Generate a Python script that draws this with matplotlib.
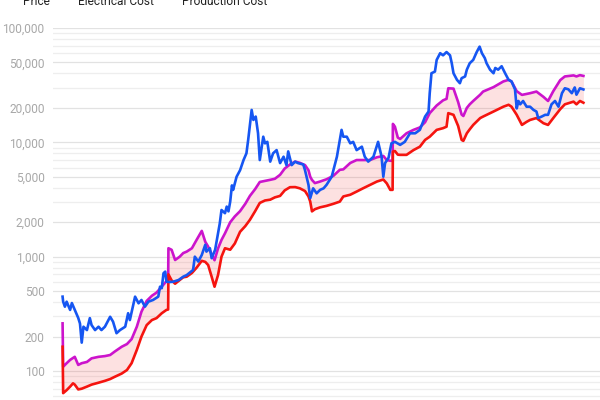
import matplotlib
matplotlib.use("Agg")
import matplotlib.pyplot as plt
import numpy as np

# ---------------- data (decimal years, USD) ----------------
price_t = [2014.71, 2014.72, 2014.75, 2014.78, 2014.84, 2014.87, 2014.92, 2014.98, 2015.01, 2015.04,
           2015.07, 2015.13, 2015.18, 2015.21, 2015.27, 2015.33, 2015.38, 2015.44, 2015.53, 2015.58,
           2015.64, 2015.70, 2015.79, 2015.84, 2015.87, 2015.96, 2016.02, 2016.07, 2016.13, 2016.19,
           2016.27, 2016.36, 2016.39, 2016.42, 2016.45, 2016.48, 2016.50, 2016.56, 2016.62, 2016.71,
           2016.79, 2016.85, 2016.96, 2016.99, 2017.05, 2017.11, 2017.17, 2017.19, 2017.25, 2017.28,
           2017.34, 2017.37, 2017.42, 2017.45, 2017.51, 2017.54, 2017.57, 2017.60, 2017.63, 2017.65,
           2017.71, 2017.77, 2017.83, 2017.88, 2017.91, 2017.97, 2018.00, 2018.04, 2018.08, 2018.11,
           2018.17, 2018.20, 2018.24, 2018.29, 2018.34, 2018.40, 2018.46, 2018.52, 2018.57, 2018.60,
           2018.66, 2018.72, 2018.77, 2018.86, 2018.89, 2018.95, 2018.98, 2019.03, 2019.09, 2019.15,
           2019.21, 2019.26, 2019.35, 2019.44, 2019.52, 2019.55, 2019.61, 2019.67, 2019.72, 2019.78,
           2019.87, 2019.92, 2019.98, 2020.07, 2020.15, 2020.21, 2020.24, 2020.27, 2020.33, 2020.38,
           2020.44, 2020.53, 2020.61, 2020.70, 2020.79, 2020.87, 2020.96, 2021.02, 2021.04, 2021.07,
           2021.13, 2021.16, 2021.22, 2021.27, 2021.33, 2021.39, 2021.42, 2021.45, 2021.51, 2021.56,
           2021.59, 2021.65, 2021.68, 2021.73, 2021.79, 2021.85, 2021.90, 2021.94, 2021.99, 2022.02,
           2022.08, 2022.14, 2022.17, 2022.22, 2022.28, 2022.34, 2022.40, 2022.45, 2022.51, 2022.54,
           2022.57, 2022.60, 2022.65, 2022.71, 2022.77, 2022.83, 2022.88, 2022.91, 2022.97, 2023.03,
           2023.08, 2023.14, 2023.20, 2023.26, 2023.32, 2023.37, 2023.43, 2023.49, 2023.54, 2023.57,
           2023.63, 2023.69]
price = [447, 404, 365, 404, 342, 393, 342, 291, 260, 177,
         244, 228, 290, 252, 228, 244, 228, 244, 298, 270,
         214, 228, 244, 320, 279, 447, 391, 418, 365, 404,
         418, 447, 546, 530, 716, 740, 604, 600, 604, 625,
         668, 690, 765, 1000, 906, 1035, 1270, 1107, 1185, 970,
         1148, 1400, 1950, 2560, 2400, 2740, 2490, 3030, 4200, 3835,
         5000, 5700, 7000, 8020, 10500, 19200, 15700, 16800, 12000, 7000,
         11200, 9800, 10100, 6780, 8020, 8550, 6580, 7490, 6320, 8330,
         6320, 6780, 6580, 6400, 5700, 4240, 3250, 3960, 3580, 3840,
         3960, 4240, 5000, 7490, 12850, 11200, 11200, 9800, 10100, 8550,
         9160, 7490, 6780, 7490, 10100, 7490, 5000, 6580, 7320, 9800,
         10100, 9500, 10100, 12000, 12000, 12850, 16800, 18600, 26900, 40200,
         41600, 52600, 60200, 57700, 61600, 57700, 49200, 40200, 35200, 32900,
         36400, 37700, 43200, 49200, 52600, 61600, 68700, 60200, 54500, 49200,
         43200, 40200, 44700, 43200, 46300, 40200, 35200, 34100, 29100, 19800,
         23000, 21500, 23000, 20500, 20500, 19200, 18600, 16300, 16800, 17400,
         17400, 21500, 23000, 20500, 26900, 29700, 29100, 26900, 30200, 26100,
         29700, 29000]

cost_t = [2014.71, 2014.72, 2014.78, 2014.84, 2014.89, 2014.92, 2014.98, 2015.04, 2015.13, 2015.21,
          2015.33, 2015.44, 2015.53, 2015.61, 2015.73, 2015.82, 2015.90, 2015.99, 2016.07, 2016.16,
          2016.25, 2016.33, 2016.42, 2016.50, 2016.530, 2016.535, 2016.59, 2016.65, 2016.73, 2016.79,
          2016.85, 2016.94, 2017.02, 2017.11, 2017.17, 2017.22, 2017.28, 2017.33, 2017.39, 2017.45,
          2017.51, 2017.60, 2017.68, 2017.77, 2017.86, 2017.94, 2018.03, 2018.11, 2018.20, 2018.29,
          2018.37, 2018.46, 2018.54, 2018.63, 2018.72, 2018.80, 2018.89, 2018.95, 2018.98, 2019.01,
          2019.06, 2019.15, 2019.26, 2019.38, 2019.49, 2019.55, 2019.67, 2019.78, 2019.89, 2020.01,
          2020.13, 2020.24, 2020.30, 2020.36, 2020.400, 2020.405, 2020.44, 2020.49, 2020.53, 2020.64,
          2020.76, 2020.87, 2020.96, 2021.04, 2021.16, 2021.27, 2021.33, 2021.36, 2021.45, 2021.53,
          2021.59, 2021.62, 2021.68, 2021.73, 2021.79, 2021.91, 2021.96, 2022.14, 2022.31, 2022.40,
          2022.45, 2022.54, 2022.63, 2022.71, 2022.77, 2022.88, 2023.00, 2023.08, 2023.17, 2023.29,
          2023.37, 2023.52, 2023.57, 2023.63, 2023.69]
production_cost = [261, 109, 117, 125, 130, 133, 113, 117, 120, 129,
                   133, 135, 138, 148, 163, 172, 190, 244, 330, 410,
                   455, 485, 547, 610, 620, 1185, 1148, 935, 1000, 1075,
                   1107, 1185, 1400, 1680, 1350, 1223, 1050, 930, 1180, 1400,
                   1600, 2000, 2250, 2500, 2900, 3400, 3900, 4500, 4600, 4700,
                   4800, 5200, 5900, 6400, 6780, 6620, 6320, 5700, 5000, 4690,
                   4400, 4540, 4750, 5100, 5750, 5800, 6600, 7000, 7000, 7000,
                   7400, 7600, 7000, 6900, 6900, 14500, 13700, 11000, 10700, 12000,
                   12850, 13500, 15000, 18000, 21000, 23300, 24000, 29700, 29500, 22500,
                   17500, 17000, 20000, 21500, 23000, 26100, 27800, 30400, 34100, 35200,
                   34100, 28000, 26000, 26500, 26900, 27800, 25000, 23000, 28000, 35000,
                   37700, 38500, 37700, 38700, 38100]
electrical_cost = [163, 64, 68, 73, 78, 76, 69, 70, 73, 76,
                   79, 82, 85, 89, 95, 102, 117, 153, 200, 252,
                   279, 290, 320, 342, 345, 700, 620, 580, 625, 660,
                   668, 720, 800, 920, 900, 845, 668, 546, 690, 1000,
                   1185, 1150, 1305, 1650, 1850, 2100, 2500, 2950, 3100, 3150,
                   3300, 3400, 3800, 4050, 4060, 3960, 3750, 3360, 3030, 2490,
                   2600, 2700, 2780, 2900, 3030, 3360, 3480, 3710, 3960, 4240,
                   4540, 4730, 4370, 3840, 3840, 8300, 8400, 7800, 7770, 7770,
                   8550, 9160, 10500, 11200, 12850, 13300, 13700, 18000, 17400, 13900,
                   10500, 10300, 12000, 13000, 14200, 16300, 16800, 18600, 20500, 21300,
                   20500, 17400, 14200, 15100, 15700, 16300, 14700, 14200, 16300, 19500,
                   21500, 22700, 21500, 23000, 22200]

series_names = ["Price", "Electrical Cost", "Production Cost"]
ytick_values = [100, 200, 500, 1000, 2000, 5000, 10000, 20000, 50000, 100000]

# ---------------- style ----------------
FONT = "Roboto"
c_price = "#1656f2"
c_elec = "#f5140f"
c_prod = "#cc14cc"

fig = plt.figure(figsize=(6, 4), dpi=100)
ax = fig.add_axes([53 / 600, 0.0, 547 / 600, 372 / 400])

ymin = 10 ** (2 - 29 / 114.3)
ax.set_yscale("log")
ax.set_ylim(ymin, 100000)
ax.set_xlim(2014.7 + (53 - 62) / 58, 2014.7 + (600 - 62) / 58)

# grid lines (all log subdivisions)
for k in range(1, 6):
    for d in range(1, 10):
        v = d * 10 ** k
        if ymin <= v <= 100000:
            major = v in ytick_values
            ax.axhline(v, color="#e2e2e2" if major else "#eeeeee", lw=0.9, zorder=0)

ax.fill_between(cost_t, electrical_cost, production_cost, color="#f31c1c", alpha=0.13,
                linewidth=0, zorder=1)
ax.plot(cost_t, production_cost, color=c_prod, lw=1.9, zorder=2, solid_joinstyle="round")
ax.plot(cost_t, electrical_cost, color=c_elec, lw=1.9, zorder=3, solid_joinstyle="round")
ax.plot(price_t, price, color=c_price, lw=1.9, zorder=4, solid_joinstyle="round")

ax.set_yticks(ytick_values)
ax.set_yticklabels([f"{v:,}" for v in ytick_values], fontfamily=FONT, fontsize=8.6,
                   color="#a8a8a8")
ax.yaxis.set_minor_locator(matplotlib.ticker.NullLocator())
ax.tick_params(axis="y", length=0, pad=6)
ax.set_xticks([])
for s in ax.spines.values():
    s.set_visible(False)

# legend (top, partially cut off as in the reference)
for name, xpx in zip(series_names, [23, 78, 182]):
    fig.text(xpx / 600, 1 - 5 / 400, name, fontfamily=FONT, fontsize=8.6, color="#222222",
             ha="left", va="baseline")

fig.savefig("out.png", dpi=100)
